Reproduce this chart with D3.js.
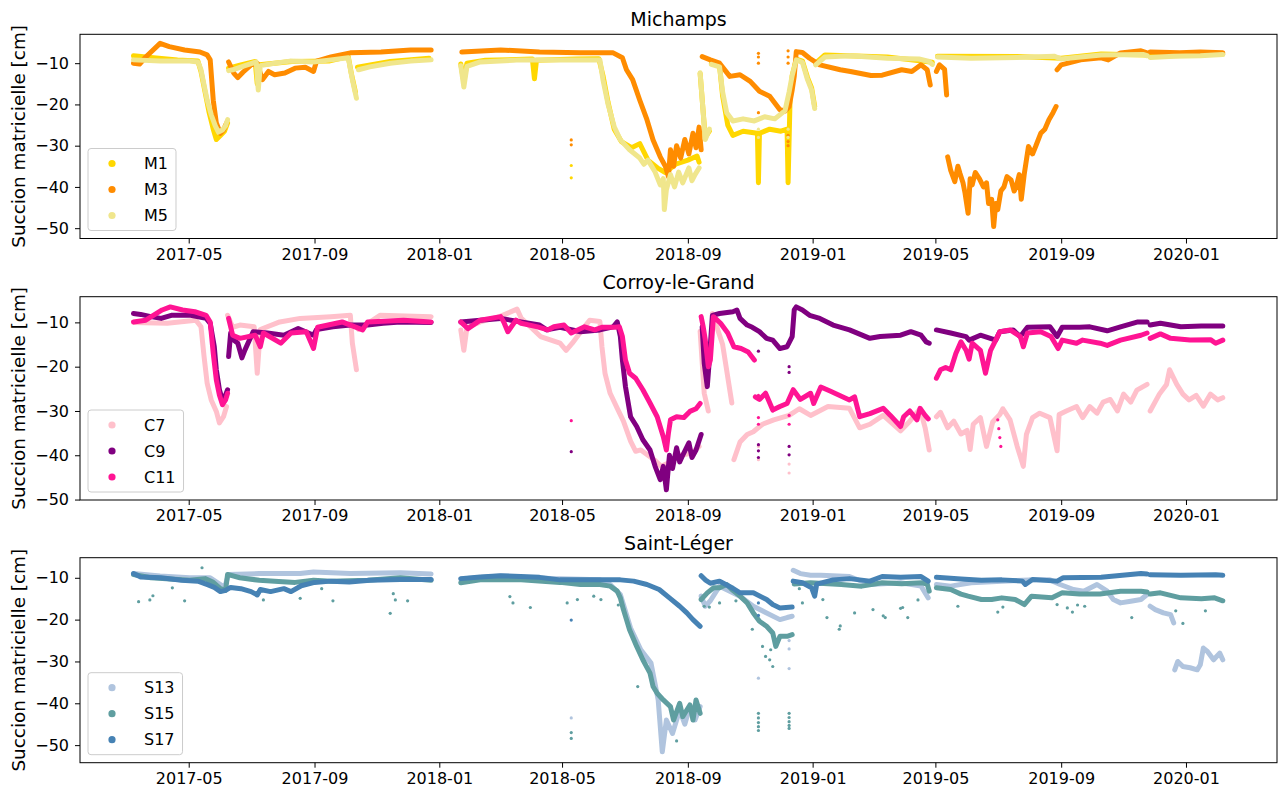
<!DOCTYPE html>
<html>
<head>
<meta charset="utf-8">
<script src="https://cdn.jsdelivr.net/npm/d3@7"></script>
<style>
  body { margin: 0; background: #fff; }
  svg { display: block; }
  text { font-family: "DejaVu Sans", sans-serif; fill: #000; }
</style>
</head>
<body>
<svg id="chart" width="1278" height="789"></svg>
<script>
//DATA  (null = gap in the record)
const xTickLabels = ["2017-05", "2017-09", "2018-01", "2018-05", "2018-09", "2019-01", "2019-05", "2019-09", "2020-01"];
const yTicks = [-50, -40, -30, -20, -10];
const siteTitles = ["Michamps", "Corroy-le-Grand", "Saint-Léger"];
const yLabel = "Succion matricielle [cm]";

const M1 = [["2017-03-08",-8.2],["2017-03-25",-8.6],["2017-04-20",-9.2],["2017-05-10",-9.5],["2017-05-13",-12],["2017-05-17",-17],["2017-05-21",-22],["2017-05-25",-26],["2017-05-28",-28.5],["2017-06-01",-27.5],["2017-06-05",-26.5],["2017-06-08",-24.5],null,
  ["2017-06-09",-11.2],["2017-06-20",-10.5],["2017-07-05",-9.6],["2017-07-07",-15],["2017-07-09",-10.4],["2017-08-10",-9.6],["2017-09-15",-9.5],["2017-10-04",-8.4],["2017-10-07",-12.5],["2017-10-11",-17],null,
  ["2017-10-13",-11],["2017-11-14",-9.6],["2017-12-22",-8.8],null,
  ["2018-01-22",-10.2],["2018-01-25",-14.5],["2018-01-28",-10],["2018-02-15",-9.3],["2018-04-02",-9],["2018-04-04",-13.8],["2018-04-06",-9.3],["2018-05-15",-9],["2018-06-06",-8.9],["2018-06-10",-13],["2018-06-15",-19.5],["2018-06-21",-26],["2018-06-28",-29],["2018-07-08",-30.5],["2018-07-16",-29.5],["2018-07-24",-33.5],["2018-08-03",-35.5],["2018-08-10",-36.5],["2018-08-20",-34.5],["2018-09-01",-33.5],["2018-09-10",-32.5],["2018-09-12",-34],null,
  ["2018-09-13",-12.5],["2018-09-18",-28],["2018-09-22",-26.5],null,
  ["2018-09-24",-10],["2018-10-02",-10.6],["2018-10-05",-18],["2018-10-10",-25],["2018-10-15",-27.5],["2018-10-25",-26.5],["2018-11-08",-27],["2018-11-09",-39],["2018-11-10",-27],["2018-11-20",-26],["2018-12-01",-26.5],["2018-12-07",-26],["2018-12-08",-39],["2018-12-10",-18],["2018-12-12",-13],["2018-12-16",-9],["2018-12-22",-9.5],["2018-12-27",-13.5],["2018-12-31",-16],["2019-01-03",-20.5],null,
  ["2019-01-04",-10],["2019-01-13",-8],["2019-03-15",-8.5],["2019-04-28",-9.8],null,
  ["2019-05-03",-8.3],["2019-07-20",-8.4],["2019-09-01",-8.8],["2019-10-10",-7.8],["2019-11-24",-8],null,
  ["2019-11-27",-8.4],["2020-02-06",-7.8]];
const M1_dots = [["2018-05-10",-34.8],["2018-05-10",-37.8]];

const M3 = [["2017-03-08",-10],["2017-03-14",-10.2],["2017-03-20",-8.5],["2017-04-03",-5.2],["2017-04-12",-6],["2017-04-27",-6.8],["2017-05-12",-7.3],["2017-05-19",-8],["2017-05-22",-9.2],["2017-05-25",-19],["2017-05-28",-24.5],["2017-06-01",-27],["2017-06-04",-26.2],["2017-06-07",-24.5],null,
  ["2017-06-09",-9.7],["2017-06-14",-12.4],["2017-06-18",-13.5],["2017-06-23",-12.2],["2017-07-01",-10.4],["2017-07-07",-10],["2017-07-12",-14],["2017-07-18",-12],["2017-07-24",-12.8],["2017-08-03",-12.4],["2017-08-13",-11.2],["2017-08-23",-11],["2017-08-31",-12],["2017-09-03",-9.5],["2017-09-17",-8.5],["2017-10-06",-7.5],["2017-11-05",-7.3],["2017-12-04",-6.8],["2017-12-24",-6.8],null,
  ["2018-01-23",-7.3],["2018-03-02",-6.8],["2018-04-09",-7.3],["2018-05-19",-7.5],["2018-06-20",-7.5],["2018-06-29",-8.7],["2018-07-03",-11.6],["2018-07-09",-14],["2018-07-16",-19],["2018-07-23",-23.7],["2018-07-29",-28.6],["2018-08-05",-32.7],["2018-08-10",-35],["2018-08-13",-37.5],["2018-08-15",-31],["2018-08-18",-35],["2018-08-21",-30],["2018-08-25",-33],["2018-08-29",-28.5],["2018-09-02",-32],["2018-09-06",-27],["2018-09-09",-30.5],["2018-09-12",-25.5],["2018-09-14",-31],null,
  ["2018-09-15",-8.4],["2018-09-23",-9.2],["2018-10-02",-10],["2018-10-12",-13.2],["2018-10-22",-12.8],["2018-11-01",-14.4],["2018-11-10",-16.8],["2018-11-20",-18],["2018-11-30",-21.3],["2018-12-05",-21.6],["2018-12-09",-20.5],["2018-12-12",-16.5],["2018-12-14",-13.2],["2018-12-16",-7.2],["2018-12-22",-7.4],["2018-12-29",-8.8],["2019-01-08",-10.4],["2019-01-28",-11.6],["2019-02-07",-12],["2019-02-27",-13],["2019-03-10",-12.9],["2019-03-29",-11.6],["2019-04-08",-12],["2019-04-17",-10.4],["2019-04-23",-11.6],["2019-04-26",-15.3],null,
  ["2019-05-02",-12],["2019-05-05",-10.4],["2019-05-10",-11.5],["2019-05-12",-17.7],null,
  ["2019-05-13",-32.7],["2019-05-16",-36],["2019-05-20",-38.7],["2019-05-23",-35],["2019-05-25",-36.7],["2019-05-28",-39],["2019-05-30",-41.5],["2019-06-02",-46.4],["2019-06-04",-38],["2019-06-06",-39.5],["2019-06-09",-36.5],["2019-06-13",-38],["2019-06-17",-40],["2019-06-20",-39],["2019-06-22",-44],["2019-06-25",-43],["2019-06-27",-49.6],["2019-06-29",-44],["2019-07-01",-45.5],["2019-07-04",-41],["2019-07-07",-40],["2019-07-10",-37.5],["2019-07-14",-38.3],["2019-07-17",-41],["2019-07-19",-40],["2019-07-22",-37],["2019-07-24",-43],["2019-07-27",-36.7],["2019-07-31",-30.2],["2019-08-04",-32],["2019-08-07",-30.2],["2019-08-12",-27],["2019-08-16",-26],["2019-08-20",-23.7],["2019-08-24",-22],["2019-08-27",-20.5],null,
  ["2019-08-28",-11.6],["2019-09-01",-10.4],["2019-09-20",-9.2],["2019-10-10",-8.7],["2019-10-17",-9.2],["2019-10-29",-7.5],["2019-11-18",-7],["2019-11-24",-7.5],null,
  ["2019-11-27",-7.3],["2019-12-26",-7.5],["2020-01-15",-7.3],["2020-02-06",-7.5]];
const M3_dots = [["2018-05-10",-28.6],["2018-05-10",-29.8],["2018-11-09",-7.6],["2018-11-09",-8.5],["2018-11-09",-10],["2018-11-09",-22],["2018-12-08",-7],["2018-12-08",-8.5],["2018-12-08",-10],["2018-12-08",-27.5],["2018-12-08",-29],["2018-12-08",-30]];

const M5 = [["2017-03-08",-9.2],["2017-04-03",-9.5],["2017-05-02",-9.5],["2017-05-10",-9.7],["2017-05-13",-11.6],["2017-05-16",-15.3],["2017-05-19",-18.9],["2017-05-23",-22.5],["2017-05-27",-25.2],["2017-05-30",-26.7],["2017-06-03",-26.2],["2017-06-06",-25.2],["2017-06-08",-23.7],null,
  ["2017-06-09",-11.8],["2017-06-13",-11.6],["2017-06-25",-10.6],["2017-07-06",-9.7],["2017-07-08",-16.5],["2017-07-10",-10.6],["2017-07-24",-10],["2017-08-08",-9.5],["2017-08-31",-9.7],["2017-09-17",-9.2],["2017-10-04",-8.7],["2017-10-08",-14],["2017-10-12",-18.5],null,
  ["2017-10-14",-11.6],["2017-10-25",-10.9],["2017-11-14",-10],["2017-12-04",-9.5],["2017-12-24",-9.2],null,
  ["2018-01-22",-10.6],["2018-01-25",-15.8],["2018-01-28",-10.8],["2018-02-10",-9.7],["2018-03-22",-9.2],["2018-04-29",-9.2],["2018-06-07",-9.2],["2018-06-10",-14],["2018-06-15",-20],["2018-06-21",-25.4],["2018-06-27",-28.6],["2018-07-06",-31],["2018-07-16",-33],["2018-07-20",-34.5],["2018-07-24",-33.5],["2018-07-31",-36.4],["2018-08-05",-39.5],["2018-08-08",-38],["2018-08-09",-45.5],["2018-08-11",-40.7],["2018-08-15",-37],["2018-08-19",-40],["2018-08-23",-36.4],["2018-08-27",-39],["2018-09-02",-35.4],["2018-09-05",-38.5],["2018-09-08",-37],["2018-09-12",-35.4],null,
  ["2018-09-13",-12.3],["2018-09-18",-28.5],["2018-09-22",-26],null,
  ["2018-09-24",-10.3],["2018-10-02",-10.9],["2018-10-05",-17],["2018-10-09",-22],["2018-10-15",-24],["2018-10-25",-23.5],["2018-11-05",-24],["2018-11-15",-23],["2018-11-25",-23.5],["2018-12-05",-21.5],["2018-12-09",-17],["2018-12-12",-13],["2018-12-16",-9.2],["2018-12-22",-9.8],["2018-12-27",-14],["2018-12-31",-16.5],["2019-01-03",-21],null,
  ["2019-01-04",-10.4],["2019-01-13",-8.5],["2019-02-07",-8.2],["2019-03-15",-8.8],["2019-04-15",-9],["2019-04-25",-9.6],["2019-04-28",-10.3],null,
  ["2019-05-03",-8.5],["2019-06-05",-8.8],["2019-07-20",-8.6],["2019-08-25",-8.3],["2019-09-01",-9],["2019-09-15",-8.6],["2019-10-10",-8],["2019-11-20",-7.9],["2019-11-24",-8.2],null,
  ["2019-11-27",-8.6],["2019-12-20",-8.3],["2020-01-15",-8.2],["2020-02-06",-7.9]];
const M5_dots = [["2018-11-09",-26],["2018-11-09",-28],["2018-12-08",-26],["2018-12-08",-28]];

const C7 = [["2017-03-08",-10],["2017-04-10",-10.2],["2017-05-08",-9.5],["2017-05-13",-11],["2017-05-16",-17.7],["2017-05-19",-23.7],["2017-05-23",-27.5],["2017-05-28",-30.1],["2017-05-31",-32.7],["2017-06-04",-31.3],["2017-06-07",-29],null,
  ["2017-06-08",-8.4],["2017-06-13",-11.1],["2017-06-20",-10.6],["2017-07-04",-11],["2017-07-07",-21.5],["2017-07-10",-11.6],["2017-07-29",-9.9],["2017-08-18",-9.1],["2017-09-17",-8.7],["2017-10-06",-8.4],["2017-10-08",-14.7],["2017-10-12",-20.7],null,
  ["2017-10-14",-11.6],["2017-11-04",-8.4],["2017-12-24",-8.7],null,
  ["2018-01-22",-11.7],["2018-01-25",-16.3],["2018-01-28",-11.2],["2018-02-10",-9.9],["2018-03-01",-8.7],["2018-03-18",-7],["2018-03-22",-9],["2018-04-10",-13.2],["2018-04-29",-14.7],["2018-05-05",-16.3],["2018-05-11",-14.7],["2018-05-23",-11],["2018-05-28",-9.5],["2018-06-07",-9.8],["2018-06-09",-15.5],["2018-06-12",-21.5],["2018-06-17",-26],["2018-06-24",-29.4],["2018-06-30",-32.3],["2018-07-07",-36.8],["2018-07-12",-39.1],["2018-07-17",-38.8],["2018-07-24",-40],["2018-07-30",-41],["2018-08-06",-42.5],["2018-08-15",-41.5],["2018-08-25",-40],["2018-09-05",-39.5],["2018-09-12",-38],null,
  ["2018-09-13",-12],["2018-09-17",-26],["2018-09-21",-30],null,
  ["2018-09-25",-8],["2018-10-05",-15],["2018-10-14",-28.2],null,
  ["2018-10-16",-41],["2018-10-22",-37],["2018-10-29",-35.3],["2018-11-04",-34.7],["2018-11-13",-33],["2018-11-24",-32],["2018-12-09",-31],["2018-12-19",-29.5],["2018-12-30",-31],["2019-01-16",-29],["2019-02-06",-29.4],["2019-02-16",-33.8],["2019-02-26",-33],["2019-03-11",-31],["2019-03-28",-34.5],["2019-04-06",-32.3],["2019-04-16",-29.5],["2019-04-21",-33.8],["2019-04-25",-38.8],null,
  ["2019-05-02",-31.3],["2019-05-06",-30.3],["2019-05-13",-33.8],["2019-05-19",-32.3],["2019-05-26",-35.2],["2019-06-01",-34.4],["2019-06-04",-38.7],["2019-06-07",-33],["2019-06-14",-31.5],["2019-06-20",-38],["2019-06-26",-32.5],["2019-07-03",-30.8],["2019-07-06",-29.5],["2019-07-13",-32],["2019-07-20",-38],["2019-07-26",-42.5],["2019-07-29",-35.3],["2019-08-04",-31.5],["2019-08-11",-30.5],["2019-08-21",-31.5],["2019-08-28",-39],["2019-08-30",-30.8],["2019-09-06",-30],["2019-09-16",-29],["2019-09-22",-31.5],["2019-09-29",-29],["2019-10-06",-30.5],["2019-10-12",-28],["2019-10-19",-27.4],["2019-10-26",-30],["2019-11-01",-26.2],["2019-11-08",-28],["2019-11-14",-25.3],["2019-11-24",-24],null,
  ["2019-11-27",-30],["2019-12-06",-26.2],["2019-12-13",-24],["2019-12-16",-20.7],["2019-12-23",-24],["2019-12-29",-26.2],["2020-01-04",-27.5],["2020-01-11",-26.5],["2020-01-18",-28.9],["2020-01-25",-26.2],["2020-02-01",-27.5],["2020-02-06",-27]];
const C7_dots = [["2018-11-09",-38],["2018-11-09",-41],["2018-12-09",-42],["2018-12-09",-44]];

const C9 = [["2017-03-08",-8],["2017-03-15",-8.2],["2017-03-25",-8.7],["2017-04-04",-9.1],["2017-04-14",-8.4],["2017-05-03",-8.4],["2017-05-18",-9.1],["2017-05-22",-10.2],["2017-05-26",-15.5],["2017-05-28",-20.7],["2017-05-31",-25.2],["2017-06-02",-26.8],["2017-06-04",-27],["2017-06-06",-26.4],["2017-06-08",-25.2],null,
  ["2017-06-09",-17.7],["2017-06-11",-12.4],["2017-06-14",-14],["2017-06-18",-14.7],["2017-06-22",-18],["2017-06-25",-16.2],["2017-07-03",-12.1],["2017-07-17",-12.4],["2017-08-02",-12.9],["2017-08-16",-11.4],["2017-08-31",-12.9],["2017-09-03",-11.6],["2017-09-19",-11],["2017-10-06",-10.6],["2017-10-23",-10.6],["2017-11-07",-10.2],["2017-11-24",-9.9],["2017-12-24",-10],null,
  ["2018-01-22",-9.9],["2018-02-10",-9.5],["2018-03-02",-9.1],["2018-03-22",-9.9],["2018-04-09",-10.6],["2018-04-16",-11.7],["2018-04-29",-11.1],["2018-05-19",-12.1],["2018-06-07",-11.7],["2018-06-20",-11],["2018-06-24",-9.9],["2018-06-27",-13.2],["2018-06-29",-18.5],["2018-07-02",-24.5],["2018-07-07",-31.3],["2018-07-13",-33.5],["2018-07-19",-36.5],["2018-07-26",-38.8],["2018-07-31",-42.5],["2018-08-05",-45.5],["2018-08-08",-42.5],["2018-08-11",-47.8],["2018-08-14",-40],["2018-08-17",-43],["2018-08-21",-38.3],["2018-08-24",-41.5],["2018-08-27",-40],["2018-09-02",-37.2],["2018-09-05",-40.5],["2018-09-09",-38.8],["2018-09-14",-35.3],null,
  ["2018-09-15",-11],["2018-09-17",-19.2],["2018-09-20",-24.5],["2018-09-22",-18.5],["2018-09-25",-8.4],["2018-10-02",-8],["2018-10-15",-7.6],["2018-10-19",-7.2],["2018-10-22",-9.1],["2018-10-29",-10.6],["2018-11-03",-11.1],["2018-11-10",-12.1],["2018-11-17",-13.6],["2018-11-23",-14],["2018-11-30",-15.9],["2018-12-07",-15.5],["2018-12-12",-13.2],["2018-12-14",-7.2],["2018-12-16",-6.5],["2018-12-22",-7.2],["2018-12-29",-8.4],["2019-01-08",-9.1],["2019-01-21",-10.6],["2019-02-06",-11.7],["2019-02-26",-13.6],["2019-03-08",-13.2],["2019-03-28",-12.9],["2019-04-07",-12.1],["2019-04-17",-12.9],["2019-04-22",-14.4],["2019-04-25",-14.7],null,
  ["2019-05-02",-11.7],["2019-05-16",-12.4],["2019-05-31",-13.2],["2019-06-03",-14],["2019-06-14",-12.9],["2019-06-29",-14],["2019-07-03",-12.1],["2019-07-16",-11.7],["2019-07-23",-13.2],["2019-07-30",-11.1],["2019-08-21",-11],["2019-08-28",-13.2],["2019-09-02",-11.1],["2019-09-19",-11.1],["2019-09-29",-11],["2019-10-16",-11.9],["2019-10-29",-11],["2019-11-15",-9.9],["2019-11-24",-9.9],null,
  ["2019-11-27",-10.6],["2019-12-07",-10.2],["2019-12-27",-11],["2020-01-16",-10.8],["2020-02-06",-10.8]];
const C9_dots = [["2018-05-10",-39.2],["2018-11-09",-16.5],["2018-11-09",-37.6],["2018-11-09",-39],["2018-11-09",-40.5],["2018-12-09",-20],["2018-12-09",-21.3],["2018-12-09",-38],["2018-12-09",-39.9]];

const C11 = [["2017-03-08",-9.9],["2017-03-20",-9.5],["2017-04-05",-7.2],["2017-04-13",-6.5],["2017-04-25",-7.2],["2017-05-07",-7.6],["2017-05-18",-8.4],["2017-05-22",-9.9],["2017-05-25",-17],["2017-05-28",-23],["2017-05-31",-26.4],["2017-06-03",-28.6],["2017-06-06",-27.5],["2017-06-08",-26],null,
  ["2017-06-09",-9.1],["2017-06-13",-12.9],["2017-06-20",-13.6],["2017-07-05",-12.9],["2017-07-10",-15.5],["2017-07-13",-12.4],["2017-07-30",-14.7],["2017-08-09",-12.4],["2017-08-24",-12.1],["2017-08-31",-15.9],["2017-09-04",-11.1],["2017-09-28",-9.9],["2017-10-18",-11.7],["2017-10-23",-9.9],["2017-11-27",-9.5],["2017-12-24",-9.9],null,
  ["2018-01-22",-9.9],["2018-01-29",-11.4],["2018-02-10",-9.5],["2018-03-02",-8.7],["2018-03-05",-9.9],["2018-03-09",-12.1],["2018-03-17",-9.5],["2018-03-22",-10.2],["2018-04-07",-11],["2018-04-17",-11.7],["2018-04-23",-11],["2018-05-03",-10.6],["2018-05-10",-12.4],["2018-05-23",-11],["2018-06-02",-11.7],["2018-06-09",-11.1],["2018-06-22",-11.1],["2018-06-26",-11],["2018-06-29",-13.2],["2018-07-02",-18.5],["2018-07-06",-21.5],["2018-07-12",-22.6],["2018-07-19",-25.2],["2018-07-26",-28.2],["2018-08-02",-31.3],["2018-08-08",-35.8],["2018-08-11",-38.8],["2018-08-13",-35],["2018-08-15",-32],["2018-08-21",-31.3],["2018-08-28",-31.5],["2018-09-03",-30.1],["2018-09-09",-29.5],["2018-09-13",-28.3],null,
  ["2018-09-14",-8.7],["2018-09-16",-11],["2018-09-18",-13.9],["2018-09-21",-20],["2018-09-23",-18.5],["2018-09-26",-8.7],["2018-10-03",-10.2],["2018-10-10",-12.4],["2018-10-16",-15.5],["2018-10-23",-15.9],["2018-10-30",-16.7],["2018-11-05",-18.5],null,
  ["2018-11-06",-26.8],["2018-11-10",-27.4],["2018-11-16",-26],["2018-11-23",-29.8],["2018-11-30",-29],["2018-12-07",-28.3],["2018-12-13",-25.2],["2018-12-20",-27.4],["2018-12-30",-26],["2019-01-02",-28.3],["2019-01-09",-24.6],["2019-01-18",-25.5],["2019-02-06",-27.5],["2019-02-11",-26.8],["2019-02-16",-31.3],["2019-02-26",-30.6],["2019-03-11",-29.4],["2019-03-18",-31],["2019-03-28",-33.5],["2019-03-31",-31.3],["2019-04-06",-30],["2019-04-13",-32],["2019-04-16",-29.4],["2019-04-21",-31],["2019-04-24",-31.8],null,
  ["2019-05-02",-22.6],["2019-05-06",-20.7],["2019-05-11",-20.2],["2019-05-16",-20.7],["2019-05-21",-17],["2019-05-26",-14.4],["2019-05-31",-16.3],["2019-06-03",-18.3],["2019-06-06",-14.7],["2019-06-14",-16.3],["2019-06-19",-21.5],["2019-06-24",-16.3],["2019-06-29",-14],["2019-07-03",-12.1],["2019-07-13",-11.7],["2019-07-23",-13.2],["2019-07-26",-15.5],["2019-07-30",-12.4],["2019-08-12",-12.1],["2019-08-22",-13.2],["2019-08-29",-15.9],["2019-09-02",-14],["2019-09-16",-14.7],["2019-09-22",-14],["2019-10-09",-14.7],["2019-10-16",-15.2],["2019-10-29",-14],["2019-11-18",-12.9],["2019-11-24",-12.4],null,
  ["2019-11-27",-13.6],["2019-12-07",-12.6],["2019-12-17",-13.6],["2020-01-05",-14],["2020-01-25",-13.9],["2020-01-30",-14.7],["2020-02-06",-14]];
const C11_dots = [["2018-05-10",-32.2],["2018-11-09",-26.5],["2018-11-09",-31.5],["2018-11-09",-33],["2018-12-09",-31],["2018-12-09",-33],["2019-07-01",-32],["2019-07-02",-34],["2019-07-03",-36],["2019-07-04",-38]];

const S13 = [["2017-03-08",-9],["2017-04-03",-9.6],["2017-05-02",-10],["2017-05-22",-10],["2017-06-05",-12.3],["2017-06-09",-9.2],["2017-07-09",-9],["2017-08-18",-9],["2017-08-31",-8.6],["2017-10-06",-9],["2017-11-24",-8.8],["2017-12-24",-9.1],null,
  ["2018-01-22",-10.3],["2018-03-01",-9.6],["2018-04-20",-10.2],["2018-06-07",-10.5],["2018-06-17",-11.6],["2018-06-27",-14],["2018-07-07",-22],["2018-07-17",-27.2],["2018-07-27",-30.4],["2018-08-03",-39.2],["2018-08-07",-51.6],["2018-08-11",-44],["2018-08-17",-47.2],["2018-08-24",-41.6],["2018-08-29",-45],["2018-09-03",-40.8],["2018-09-08",-44],["2018-09-13",-40.8],null,
  ["2018-09-14",-14.4],["2018-09-18",-16.8],["2018-09-23",-15.5],["2018-10-02",-12],["2018-10-22",-14.4],["2018-11-04",-16.8],["2018-11-17",-18.4],["2018-11-30",-20],["2018-12-07",-19.5],["2018-12-12",-19.2],null,
  ["2018-12-13",-8.2],["2018-12-20",-9],["2018-12-30",-9.4],["2019-01-09",-9.4],["2019-02-06",-9.7],["2019-02-26",-11.6],["2019-03-28",-11.2],["2019-04-17",-12],["2019-04-24",-14.8],null,
  ["2019-05-02",-11.6],["2019-05-16",-12],["2019-06-05",-11.2],["2019-07-05",-10.8],["2019-08-01",-10.5],["2019-08-21",-10.5],["2019-08-31",-11.6],["2019-09-13",-12.8],["2019-09-23",-13.2],["2019-10-06",-11.6],["2019-10-16",-13.2],["2019-10-22",-15.2],["2019-10-29",-16],["2019-11-08",-15.6],["2019-11-18",-15.2],["2019-11-24",-14],null,
  ["2019-11-27",-16.8],["2019-12-02",-17.6],["2019-12-10",-18.4],["2019-12-17",-18.8],["2019-12-20",-20.8],null,
  ["2019-12-21",-32],["2019-12-24",-30],["2019-12-29",-31.2],["2020-01-05",-31.5],["2020-01-12",-32],["2020-01-15",-30.8],["2020-01-18",-26.8],["2020-01-22",-27.6],["2020-01-28",-29.6],["2020-02-03",-28],["2020-02-06",-29.6]];
const S13_dots = [["2018-05-10",-43.5],["2018-11-09",-34],["2018-12-09",-31.7],["2018-12-09",-25],["2018-12-09",-27]];

const S15 = [["2017-03-08",-9.2],["2017-03-25",-10],["2017-05-02",-10.6],["2017-05-17",-10.2],["2017-05-25",-11.1],["2017-06-01",-12.6],["2017-06-06",-13],["2017-06-08",-9.2],["2017-06-20",-10],["2017-07-09",-10.6],["2017-07-24",-10.8],["2017-08-13",-11.1],["2017-08-31",-10.6],["2017-09-17",-10.8],["2017-10-23",-10.6],["2017-11-24",-10],["2017-12-24",-10.6],null,
  ["2018-01-22",-11.2],["2018-02-10",-10.5],["2018-03-22",-10.5],["2018-04-29",-11.1],["2018-05-19",-11.6],["2018-06-07",-11.6],["2018-06-17",-12],["2018-06-24",-13.2],["2018-06-27",-14.8],["2018-06-30",-17.6],["2018-07-03",-20],["2018-07-06",-22.4],["2018-07-13",-26.4],["2018-07-19",-29.6],["2018-07-26",-32.8],["2018-07-29",-36],["2018-08-02",-37.6],["2018-08-08",-39.2],["2018-08-15",-40.8],["2018-08-18",-44],["2018-08-24",-40],["2018-08-27",-43.2],["2018-09-03",-40.4],["2018-09-06",-44],["2018-09-09",-39.2],["2018-09-13",-42.4],null,
  ["2018-09-14",-15.2],["2018-09-20",-13.6],["2018-09-26",-12.4],["2018-10-02",-12.4],["2018-10-09",-11.6],["2018-10-15",-13],["2018-10-22",-14.4],["2018-10-29",-16],["2018-11-04",-18.4],["2018-11-10",-20.4],["2018-11-17",-21.6],["2018-11-23",-23.2],["2018-11-26",-26.4],["2018-11-30",-24],["2018-12-07",-24],["2018-12-12",-23.6],null,
  ["2018-12-14",-11.5],["2018-12-30",-11.2],["2019-01-29",-11.6],["2019-02-18",-12],["2019-03-10",-11.2],["2019-03-29",-11.4],["2019-04-18",-11.2],["2019-04-23",-11.5],["2019-04-25",-13.2],null,
  ["2019-05-02",-12.4],["2019-05-16",-12.8],["2019-05-26",-13.9],["2019-06-02",-14.4],["2019-06-15",-15.2],["2019-06-25",-15.2],["2019-07-05",-14.8],["2019-07-18",-15.2],["2019-07-27",-16.4],["2019-08-03",-14.4],["2019-08-23",-14.8],["2019-09-02",-13.6],["2019-09-19",-13.9],["2019-10-09",-13.9],["2019-10-29",-13.2],["2019-11-18",-13.2],["2019-11-24",-13.4],null,
  ["2019-11-27",-13.9],["2019-12-07",-13.6],["2019-12-27",-14.8],["2020-01-16",-15],["2020-01-29",-14.8],["2020-02-06",-15.5]];
const S15_dots = [["2017-03-13",-15.7],["2017-03-24",-15.3],["2017-03-27",-14.3],["2017-04-15",-12.4],["2017-04-27",-15.5],["2017-05-14",-7.6],["2017-07-13",-15.3],["2017-08-18",-14.9],["2017-09-08",-12.6],["2017-09-19",-15.5],["2017-11-14",-18.5],["2017-11-17",-13.8],["2017-11-19",-15.3],["2017-12-01",-15.5],
  ["2018-03-11",-14.5],["2018-03-14",-16],["2018-03-31",-17.1],["2018-05-06",-16],["2018-05-16",-15.2],["2018-06-01",-14.4],["2018-06-08",-15.2],["2018-06-25",-16.5],["2018-05-10",-48.4],["2018-05-10",-47],["2018-07-14",-36],["2018-08-21",-49],
  ["2018-09-17",-16.8],["2018-09-22",-17],["2018-10-02",-16],["2018-10-18",-15.5],["2018-11-03",-22.3],["2018-11-13",-26.4],["2018-11-16",-28.8],["2018-11-21",-27.2],["2018-11-20",-29.6],["2018-11-23",-31.2],
  ["2018-11-09",-42.4],["2018-11-09",-43.5],["2018-11-09",-44.6],["2018-11-09",-45.6],["2018-11-09",-46.5],["2018-12-09",-42.4],["2018-12-09",-43.4],["2018-12-09",-44.4],["2018-12-09",-45.3],["2018-12-09",-46],
  ["2018-12-19",-12.6],["2018-12-22",-16],["2019-01-11",-15.2],["2019-01-15",-19.5],["2019-01-28",-21.5],["2019-01-27",-22.3],["2019-02-11",-18.4],["2019-03-01",-17.6],["2019-03-11",-19.1],["2019-03-13",-19.5],["2019-03-28",-17.3],["2019-03-30",-17.1],["2019-04-04",-19.5],["2019-04-14",-15.3],
  ["2019-05-23",-16.8],["2019-07-01",-18.2],["2019-07-06",-17],["2019-08-28",-16.4],["2019-09-07",-17.2],["2019-09-12",-18.2],["2019-09-17",-16.5],["2019-09-24",-16.8],["2019-11-09",-19.5],["2019-12-22",-17.9],["2019-12-29",-20.9],["2020-01-20",-17.9]];

const S17 = [["2017-03-08",-9],["2017-03-15",-9.8],["2017-04-04",-10],["2017-04-24",-10.6],["2017-05-10",-10.8],["2017-05-20",-11.7],["2017-05-26",-12.3],["2017-06-01",-13.3],["2017-06-06",-13],["2017-06-11",-12.3],["2017-06-21",-12.6],["2017-07-01",-13.3],["2017-07-07",-14.1],["2017-07-10",-12.8],["2017-07-20",-13.3],["2017-08-02",-12.6],["2017-08-09",-13.3],["2017-08-19",-11.9],["2017-09-01",-11.1],["2017-09-17",-10.8],["2017-10-05",-11],["2017-10-25",-10.6],["2017-11-24",-10.4],["2017-12-24",-10.4],null,
  ["2018-01-22",-10.2],["2018-02-10",-9.8],["2018-03-02",-9.5],["2018-04-09",-9.9],["2018-04-29",-10.5],["2018-06-07",-10.5],["2018-06-27",-10.5],["2018-07-10",-10.8],["2018-07-23",-11.6],["2018-08-04",-12.8],["2018-08-14",-14.8],["2018-08-24",-16.8],["2018-08-31",-18.4],["2018-09-06",-20],["2018-09-13",-21.6],null,
  ["2018-09-14",-9.5],["2018-09-18",-10.5],["2018-09-23",-11.3],["2018-10-02",-10.8],["2018-10-15",-12.5],["2018-10-22",-13.6],["2018-11-04",-13.6],["2018-11-17",-15.2],["2018-11-23",-16.4],["2018-11-30",-17.2],["2018-12-12",-17],null,
  ["2018-12-13",-10.8],["2018-12-22",-11.2],["2018-12-31",-12.4],["2019-01-03",-14.4],["2019-01-05",-11.5],["2019-01-21",-10.5],["2019-02-06",-10.2],["2019-02-26",-10.8],["2019-03-10",-9.7],["2019-03-28",-9.9],["2019-04-17",-9.7],["2019-04-24",-10.8],null,
  ["2019-05-02",-9.9],["2019-05-26",-10.3],["2019-06-15",-10.6],["2019-07-05",-10.5],["2019-07-25",-10.8],["2019-07-28",-11.6],["2019-08-04",-10.4],["2019-08-28",-10.8],["2019-09-03",-10],["2019-10-10",-9.9],["2019-11-18",-9],["2019-11-24",-9.1],null,
  ["2019-11-27",-9.3],["2019-12-27",-9.4],["2020-01-30",-9.3],["2020-02-06",-9.4]];
const S17_dots = [["2018-05-10",-20.1],["2018-11-09",-16],["2018-11-09",-19]];

//layout
const W = 1278, H = 789;
const left = 80, right = 1277;
const panels = [
  { title: siteTitles[0], top: 34.3, bottom: 238.5, yDomain: [-52.5, -3],
    series: [{ name: "M1", color: "#ffd700", data: M1, dots: M1_dots },
             { name: "M3", color: "#ff8c00", data: M3, dots: M3_dots },
             { name: "M5", color: "#f0e68c", data: M5, dots: M5_dots }] },
  { title: siteTitles[1], top: 296.7, bottom: 500, yDomain: [-50.1, -4.2],
    series: [{ name: "C7", color: "#ffc0cb", data: C7, dots: C7_dots },
             { name: "C9", color: "#800080", data: C9, dots: C9_dots },
             { name: "C11", color: "#ff1493", data: C11, dots: C11_dots }] },
  { title: siteTitles[2], top: 557.7, bottom: 762.7, yDomain: [-54.2, -5.2],
    series: [{ name: "S13", color: "#b0c4de", data: S13, dots: S13_dots },
             { name: "S15", color: "#5f9ea0", data: S15, dots: S15_dots },
             { name: "S17", color: "#4682b4", data: S17, dots: S17_dots }] }
];

const parseDay = d3.utcParse("%Y-%m-%d");
const parseMonth = d3.utcParse("%Y-%m");
const toPts = arr => arr.map(d => d ? [parseDay(d[0]), d[1]] : null);

const svg = d3.select("#chart");

const x = d3.scaleUtc()
  .domain([new Date(Date.UTC(2017, 0, 14, 17)), new Date(Date.UTC(2020, 2, 30))])
  .range([left, right]);

panels.forEach(p => {
  const y = d3.scaleLinear().domain(p.yDomain).range([p.bottom, p.top]);
  const g = svg.append("g");

  const clipId = "clip-" + p.series[0].name;
  svg.append("clipPath").attr("id", clipId)
    .append("rect").attr("x", left).attr("y", p.top)
    .attr("width", right - left).attr("height", p.bottom - p.top);

  const plot = g.append("g").attr("clip-path", `url(#${clipId})`);

  const line = d3.line()
    .defined(d => d !== null)
    .x(d => x(d[0]))
    .y(d => y(d[1]));

  p.series.forEach(s => {
    plot.append("path")
      .datum(toPts(s.data))
      .attr("fill", "none")
      .attr("stroke", s.color)
      .attr("stroke-width", 5)
      .attr("stroke-linejoin", "round")
      .attr("stroke-linecap", "round")
      .attr("d", line);

    plot.selectAll(null)
      .data(toPts(s.dots))
      .join("circle")
      .attr("cx", d => x(d[0]))
      .attr("cy", d => y(d[1]))
      .attr("r", 1.6)
      .attr("fill", s.color);
  });

  // axes
  const xAxis = d3.axisBottom(x)
    .tickValues(xTickLabels.map(parseMonth))
    .tickFormat(d3.utcFormat("%Y-%m"))
    .tickSize(5).tickPadding(5).tickSizeOuter(0);
  const yAxis = d3.axisLeft(y)
    .tickValues(yTicks)
    .tickSize(5).tickPadding(6).tickSizeOuter(0);

  g.append("g").attr("transform", `translate(0,${p.bottom})`).call(xAxis)
    .call(a => a.select(".domain").remove())
    .call(a => a.selectAll("text").attr("font-size", 16).attr("fill", "#000"))
    .call(a => a.selectAll("line").attr("stroke", "#000"));
  g.append("g").attr("transform", `translate(${left},0)`).call(yAxis)
    .call(a => a.select(".domain").remove())
    .call(a => a.selectAll("text").attr("font-size", 16).attr("fill", "#000"))
    .call(a => a.selectAll("line").attr("stroke", "#000"));

  g.append("rect")
    .attr("x", left).attr("y", p.top)
    .attr("width", right - left).attr("height", p.bottom - p.top)
    .attr("fill", "none").attr("stroke", "#000").attr("stroke-width", 1);

  // title + y label
  g.append("text")
    .attr("x", (left + right) / 2).attr("y", p.top - 8)
    .attr("text-anchor", "middle").attr("font-size", 19)
    .text(p.title);
  g.append("text")
    .attr("transform", `translate(18,${(p.top + p.bottom) / 2}) rotate(-90)`)
    .attr("text-anchor", "middle").attr("dominant-baseline", "central")
    .attr("font-size", 18.4)
    .text(yLabel);

  // legend
  const lg = g.append("g");
  const boxH = 82, boxX = left + 8, boxY = p.bottom - 8 - boxH;
  const box = lg.append("rect")
    .attr("x", boxX).attr("y", boxY).attr("height", boxH)
    .attr("rx", 3).attr("fill", "#fff").attr("fill-opacity", 0.8)
    .attr("stroke", "#ccc").attr("stroke-width", 1);
  let maxW = 0;
  p.series.forEach((s, i) => {
    const cy = boxY + 15 + i * 26;
    lg.append("circle").attr("cx", boxX + 24).attr("cy", cy).attr("r", 3.6).attr("fill", s.color);
    const t = lg.append("text")
      .attr("x", boxX + 56).attr("y", cy)
      .attr("dominant-baseline", "central").attr("font-size", 16)
      .text(s.name);
    maxW = Math.max(maxW, t.node().getComputedTextLength());
  });
  box.attr("width", 56 + maxW + 8);
});
</script>
</body>
</html>
